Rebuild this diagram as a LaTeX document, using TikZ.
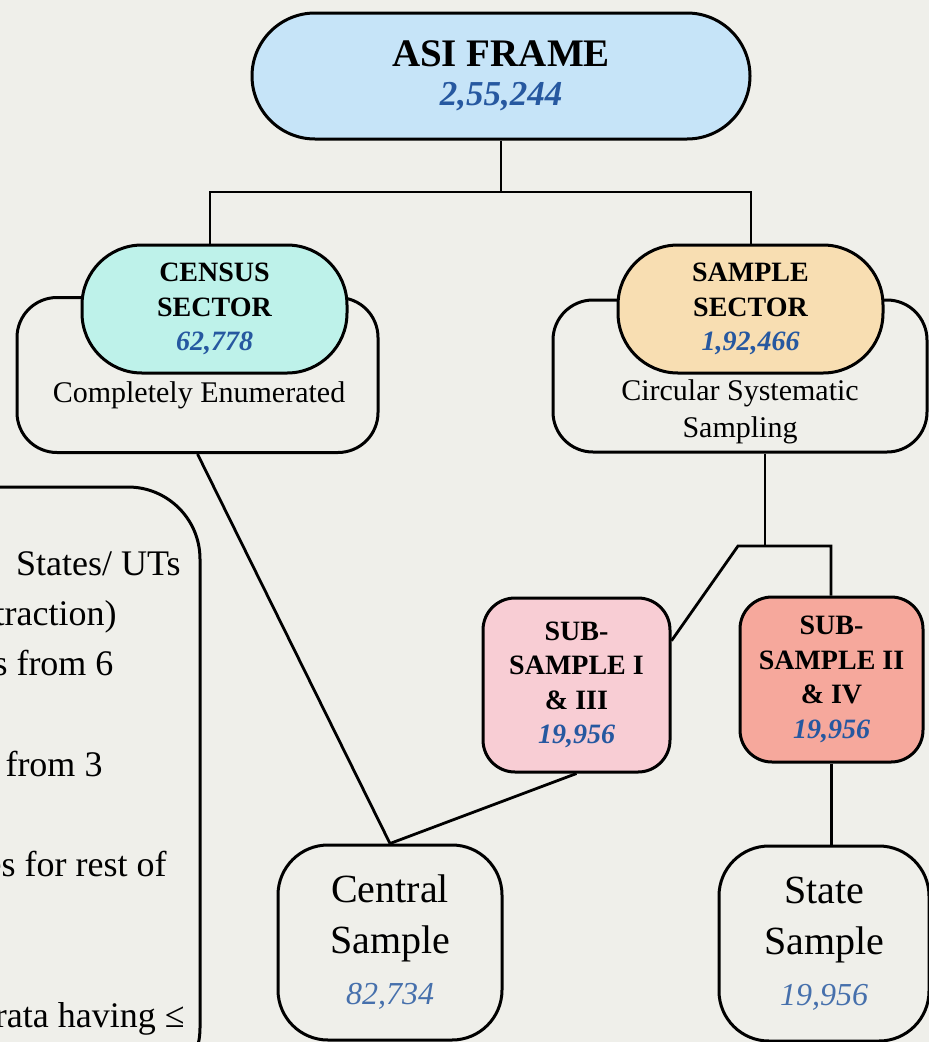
\documentclass[tikz,border=0pt]{standalone}
\usepackage{fontspec}
\setmainfont{Liberation Serif}

\definecolor{paper}{RGB}{239,239,234}
\definecolor{frameblue}{RGB}{198,228,248}
\definecolor{censusaqua}{RGB}{190,242,234}
\definecolor{samplepeach}{RGB}{248,222,178}
\definecolor{subpink}{RGB}{248,205,212}
\definecolor{subsalmon}{RGB}{246,168,156}
\definecolor{tallyblue}{RGB}{38,88,160}
\definecolor{softblue}{RGB}{70,112,172}

\newcommand{\tally}[1]{{\bfseries\itshape\color{tallyblue}#1}}
\newcommand{\softtally}[1]{{\fontsize{32}{50}\selectfont\itshape\color{softblue}#1}}

\begin{document}
\begin{tikzpicture}
    [x=1pt,y=-1pt,
     every node/.style={draw,line width=3pt,align=center,inner sep=0pt}]

    \tikzstyle{plain}    = [draw=none]
    \tikzstyle{wire}     = [line width=2.8pt]
    \tikzstyle{heading}  = [font=\fontsize{28}{34.5}\selectfont\bfseries]
    \tikzstyle{outcome}  = [rounded corners=50pt,minimum width=210pt,minimum height=195pt,
                            font=\fontsize{40}{51}\selectfont]
    \tikzstyle{notetext} = [draw=none,anchor=base east,font=\fontsize{36}{40}\selectfont]

    \useasboundingbox (0,0) rectangle (929,1042);
    \fill [paper] (0,0) rectangle (929,1042);
    \clip (0,0) rectangle (929,1042);

    \node [fill=frameblue,rounded corners=63pt,minimum width=498pt,minimum height=126pt,
           font=\fontsize{39}{39}\selectfont] (frame) at (501,76)
          {\textbf{ASI FRAME}\\{\fontsize{35}{39}\selectfont\tally{2,55,244}}} ;

    \node [rounded corners=40pt,minimum width=361pt,minimum height=155pt] (censusout) at (197.5,375) {} ;
    \node [rounded corners=40pt,minimum width=374pt,minimum height=152pt] (sampleout) at (740,376) {} ;

    \node [heading,fill=censusaqua,rounded corners=60pt,minimum width=265pt,minimum height=128pt]
          (census) at (214.5,309) {CENSUS\\SECTOR\\\tally{62,778}} ;
    \node [heading,fill=samplepeach,rounded corners=60pt,minimum width=265pt,minimum height=128pt]
          (sample) at (750.5,309) {SAMPLE\\SECTOR\\\tally{1,92,466}} ;

    \node [plain,anchor=base,font=\fontsize{30}{37}\selectfont] (censusnote) at (199,402) {Completely Enumerated} ;
    \node [plain,font=\fontsize{30}{37}\selectfont] (samplenote) at (740,412) {Circular Systematic\\Sampling} ;

    \node [heading,fill=subpink,rounded corners=32pt,minimum width=187pt,minimum height=174pt]
          (subone) at (576.5,685) {SUB-\\SAMPLE I\\\& III\\\tally{19,956}} ;
    \node [heading,fill=subsalmon,rounded corners=32pt,minimum width=183pt,minimum height=165pt]
          (subtwo) at (831.5,679.5) {SUB-\\SAMPLE II\\\& IV\\\tally{19,956}} ;

    \node [outcome,minimum width=224pt] (central) at (390,942.5) {Central\\Sample\\\softtally{82,734}} ;
    \node [outcome] (state) at (824,943.5) {State\\Sample\\\softtally{19,956}} ;

    \node [rounded corners=72pt,minimum width=400pt,minimum height=613pt] (notebox) at (0,793.5) {} ;
    \node [notetext] (note1) at (182,575) {States/ UTs} ;
    \node [notetext] (note2) at (118,625.3) {traction)} ;
    \node [notetext] (note3) at (115,675.6) {s from 6} ;
    \node [notetext] (note4) at (104,776.2) {from 3} ;
    \node [notetext] (note5) at (168,876.8) {es for rest of} ;
    \node [notetext] (note6) at (186,1027.7) {rata having ≤} ;

    \coordinate (jleft)  at (210,192) ;
    \coordinate (jright) at (751,192) ;
    \coordinate (split)  at (765,546) ;
    \coordinate (splitl) at (738,546) ;
    \coordinate (splitr) at (831,546) ;

    \draw [wire] (frame.south) -- (frame.south |- jleft) ;
    \draw [wire] (census.north -| jleft) -- (jleft) -- (jright) -- (sample.north -| jright) ;
    \draw [wire] (sampleout.south -| split) -- (split) ;
    \draw [wire] (subone.25) -- (splitl) -- (splitr) -- (splitr |- subtwo.north) ;
    \draw [wire] (censusout.south) -- (central.north) ;
    \draw [wire] (subone.south) -- (central.north) ;
    \draw [wire] (subtwo.south) -- (subtwo.south |- state.north) ;
  \end{tikzpicture}
\end{document}
